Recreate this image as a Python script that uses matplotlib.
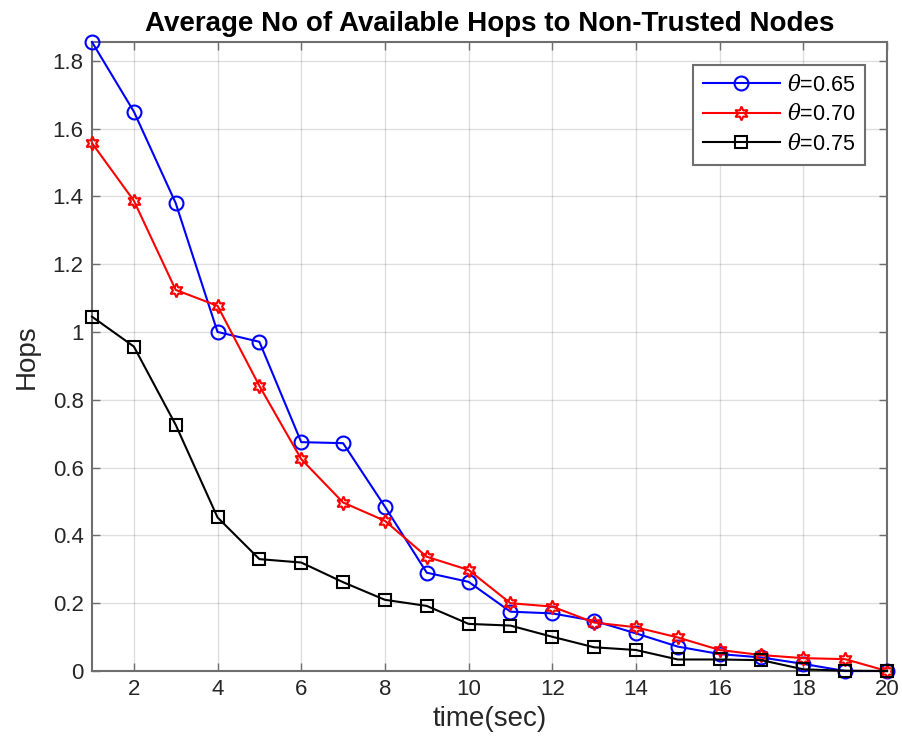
import matplotlib.pyplot as plt
import numpy as np
from matplotlib.ticker import FormatStrFormatter, MultipleLocator

plt.rcParams["font.family"] = ["Liberation Sans", "DejaVu Sans"]
plt.rcParams["mathtext.fontset"] = "dejavuserif"

# time steps and average hops per threshold
t = np.arange(1, 21)
hops_065 = [1.855, 1.650, 1.380, 1.000, 0.971, 0.675, 0.672, 0.485, 0.290, 0.263,
            0.175, 0.170, 0.148, 0.111, 0.072, 0.050, 0.040, 0.021, 0.000, 0.000]
hops_070 = [1.557, 1.387, 1.124, 1.077, 0.841, 0.625, 0.497, 0.443, 0.337, 0.298,
            0.200, 0.190, 0.143, 0.129, 0.099, 0.062, 0.047, 0.038, 0.035, 0.000]
hops_075 = [1.045, 0.957, 0.726, 0.453, 0.330, 0.320, 0.262, 0.210, 0.192, 0.139,
            0.134, 0.101, 0.070, 0.062, 0.034, 0.034, 0.032, 0.005, 0.001, 0.000]
labels = [r"$\theta$=0.65", r"$\theta$=0.70", r"$\theta$=0.75"]

axis_col = "#262626"
spine_col = "#6e6e6e"
hexagram = (6, 1, 0)

fig = plt.figure(figsize=(9.03, 7.51), dpi=100)
ax = fig.add_axes([0.1019, 0.1065, 0.8804, 0.8375])

style = dict(lw=1.5, mfc="none", mew=1.5, clip_on=False, zorder=3)
ax.plot(t, hops_065, "-o", color="blue", ms=10, label=labels[0], **style)
ax.plot(t, hops_070, "-", marker=hexagram, color="red", ms=10, label=labels[1], **style)
ax.plot(t, hops_075, "-s", color="black", ms=8.5, label=labels[2], **style)

ax.set_xlim(1, 20)
ax.set_ylim(0, 1.855)
ax.xaxis.set_major_locator(MultipleLocator(2))
ax.yaxis.set_major_locator(MultipleLocator(0.2))
ax.yaxis.set_major_formatter(FormatStrFormatter("%g"))

ax.grid(True, color="#262626", alpha=0.15, lw=1)
ax.tick_params(direction="in", top=True, right=True, length=6, width=1,
               color=spine_col, labelcolor=axis_col, labelsize=16, pad=6)
for s in ax.spines.values():
    s.set_color(spine_col)
    s.set_linewidth(1.5)

ax.set_title("Average No of Available Hops to Non-Trusted Nodes",
             fontsize=20, fontweight="bold", pad=8)
ax.set_xlabel("time(sec)", fontsize=20, color=axis_col, labelpad=4)
ax.set_ylabel("Hops", fontsize=20, color=axis_col, labelpad=9)

leg = ax.legend(loc="upper right", bbox_to_anchor=(0.9723, 0.9634), borderaxespad=0,
                fontsize=15.5, fancybox=False, framealpha=1, edgecolor=spine_col,
                handlelength=3.6, borderpad=0.45, labelspacing=0.4, handletextpad=0.3)
leg.get_frame().set_linewidth(1.5)

fig.savefig("out.png", dpi=100)
